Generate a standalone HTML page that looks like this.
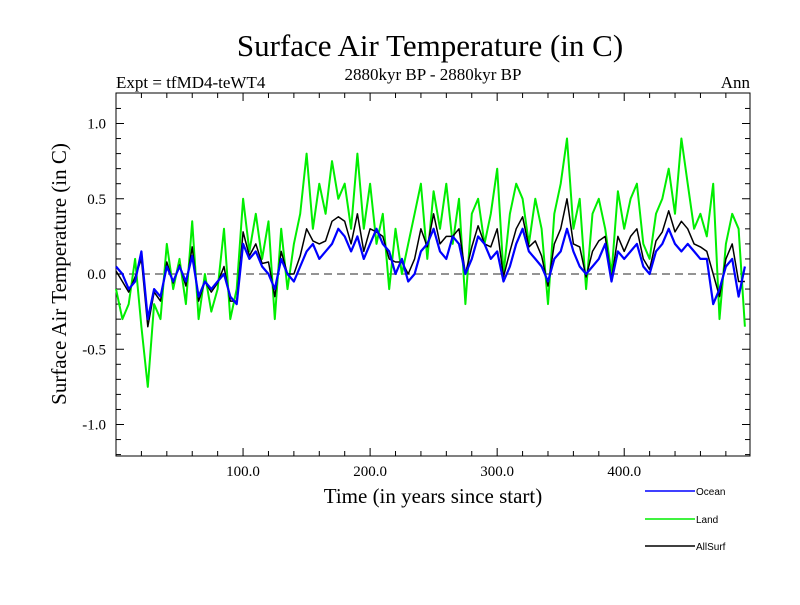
<!DOCTYPE html>
<html><head><meta charset="utf-8"><style>
body{margin:0;background:#fff;}
svg text{font-family:"Liberation Serif",serif;}
</style></head><body>
<svg id="chart" width="800" height="600" viewBox="0 0 800 600">
<text x="430" y="56" font-size="31" text-anchor="middle">Surface Air Temperature (in C)</text>
<text x="116" y="88" font-size="17">Expt = tfMD4-teWT4</text>
<text x="433" y="80" font-size="17" text-anchor="middle">2880kyr BP - 2880kyr BP</text>
<text x="750" y="88" font-size="17" text-anchor="end">Ann</text>
<text x="433" y="503" font-size="21" text-anchor="middle">Time (in years since start)</text>
<text transform="translate(66,274) rotate(-90)" font-size="21" text-anchor="middle">Surface Air Temperature (in C)</text>
<g id="axes"></g>
<g id="series"></g>
<g id="legend"></g>
</svg>
<script>
const years = [];
for (let i = 0; i < 100; i++) years.push(i * 5);
const ocean = [0.05,0.0,-0.1,-0.05,0.15,-0.3,-0.1,-0.15,0.05,-0.05,0.05,-0.05,0.12,-0.15,-0.05,-0.1,-0.05,0.0,-0.15,-0.2,
0.2,0.1,0.15,0.05,0.0,-0.1,0.1,0.0,-0.05,0.05,0.15,0.2,0.1,0.15,0.2,0.3,0.25,0.15,0.25,0.1,
0.2,0.3,0.2,0.15,0.0,0.1,-0.05,0.0,0.15,0.2,0.3,0.15,0.1,0.25,0.2,0.0,0.1,0.25,0.2,0.1,
0.15,-0.05,0.05,0.2,0.3,0.15,0.1,0.05,-0.05,0.1,0.15,0.3,0.15,0.05,0.0,0.05,0.1,0.2,-0.05,0.15,
0.1,0.15,0.2,0.05,0.0,0.15,0.2,0.3,0.2,0.15,0.2,0.15,0.1,0.1,-0.2,-0.1,0.05,0.1,-0.15,0.05];
const land = [-0.1,-0.3,-0.2,0.1,-0.35,-0.75,-0.2,-0.3,0.2,-0.1,0.1,-0.2,0.35,-0.3,0.0,-0.25,-0.1,0.3,-0.3,-0.1,
0.5,0.15,0.4,0.1,0.35,-0.3,0.3,-0.1,0.2,0.4,0.8,0.3,0.6,0.4,0.75,0.5,0.6,0.3,0.8,0.3,
0.6,0.2,0.4,-0.1,0.3,0.0,0.2,0.4,0.6,0.1,0.55,0.3,0.6,0.2,0.5,-0.2,0.4,0.5,0.2,0.4,
0.7,0.0,0.4,0.6,0.5,0.2,0.5,0.3,-0.2,0.4,0.6,0.9,0.3,0.5,-0.1,0.4,0.5,0.3,0.0,0.55,
0.3,0.5,0.6,0.2,0.1,0.4,0.5,0.7,0.4,0.9,0.6,0.3,0.4,0.25,0.6,-0.3,0.2,0.4,0.3,-0.35];
const allsurf = [0.02,-0.05,-0.12,-0.02,0.1,-0.35,-0.12,-0.18,0.08,-0.06,0.06,-0.08,0.18,-0.18,-0.05,-0.12,-0.06,0.05,-0.18,-0.18,
0.28,0.12,0.2,0.07,0.08,-0.15,0.15,0.0,0.0,0.12,0.3,0.22,0.2,0.22,0.35,0.38,0.35,0.2,0.4,0.15,
0.3,0.28,0.25,0.1,0.08,0.08,0.0,0.1,0.3,0.18,0.4,0.2,0.25,0.25,0.3,0.0,0.18,0.32,0.2,0.18,
0.3,-0.02,0.15,0.3,0.38,0.18,0.22,0.12,-0.08,0.2,0.3,0.5,0.2,0.18,-0.02,0.15,0.22,0.25,-0.04,0.25,
0.15,0.25,0.3,0.1,0.03,0.22,0.28,0.42,0.28,0.35,0.3,0.2,0.18,0.15,0.0,-0.15,0.1,0.2,-0.05,-0.05];
const yTicks = [-1.0,-0.5,0.0,0.5,1.0];
const yTickLabels = ["-1.0","-0.5","0.0","0.5","1.0"];
const xTicks = [100,200,300,400];
const xTickLabels = ["100.0","200.0","300.0","400.0"];

const L=116,R=750,T=93,B=456;
const xs = v => L + (v/499)*(R-L);
const ys = v => 274 - v*150.5;
const NS='http://www.w3.org/2000/svg';
function mk(tag, attrs, parent){const e=document.createElementNS(NS,tag);for(const k in attrs)e.setAttribute(k,attrs[k]);parent.appendChild(e);return e;}
const axes=document.getElementById('axes');
const frame=mk('rect',{x:L,y:T,width:R-L,height:B-T,fill:'none',stroke:'#000','stroke-width':1},axes);


const zl=mk('line',{x1:L,x2:R,y1:ys(0),y2:ys(0),stroke:'#555','stroke-width':1.3,'stroke-dasharray':'8,5'},axes);


for(let v=20; v<500; v+=20){
  const big = v%100===0;
  const len = big?8:5;
  mk('line',{x1:xs(v),x2:xs(v),y1:B,y2:B-len,stroke:'#000'},axes);
  mk('line',{x1:xs(v),x2:xs(v),y1:T,y2:T+len,stroke:'#000'},axes);
}
for(let k=-18;k<=11;k++){
  const v=k/10; const y=ys(v); if(y<T||y>B) continue;
  const big = k%5===0; const len=big?8:5;
  mk('line',{x1:L,x2:L+len,y1:y,y2:y,stroke:'#000'},axes);
  mk('line',{x1:R,x2:R-len,y1:y,y2:y,stroke:'#000'},axes);
}
yTicks.forEach((v,i)=>{const t=mk('text',{x:106,y:ys(v)+5,'font-size':15,'text-anchor':'end'},axes);t.textContent=yTickLabels[i];

});
xTicks.forEach((v,i)=>{const t=mk('text',{x:xs(v),y:476,'font-size':15,'text-anchor':'middle'},axes);t.textContent=xTickLabels[i];

});
const ser=document.getElementById('series');
function line(arr,color,w,name){
  const d=arr.map((v,i)=>(i?'L':'M')+xs(years[i]).toFixed(1)+','+ys(v).toFixed(1)).join('');
  const p=mk('path',{d:d,fill:'none',stroke:color,'stroke-width':w,'stroke-linejoin':'round'},ser);
  
  
}
line(land,'#00ee00',2,'land-series');
line(allsurf,'#000',1.5,'allsurf-series');
line(ocean,'#0000ff',2.2,'ocean-series');
const lg=document.getElementById('legend');
[['Ocean','#0000ff',491],['Land','#00ee00',519],['AllSurf','#000',546]].forEach(([n,c,y])=>{
  const l=mk('line',{x1:645,x2:695,y1:y,y2:y,stroke:c,'stroke-width':1.5},lg);
  
  
  const t=mk('text',{x:696,y:y+4,'font-size':10,style:'font-family:"Liberation Sans",sans-serif'},lg);t.textContent=n;
  
  
});
</script>
</body></html>
